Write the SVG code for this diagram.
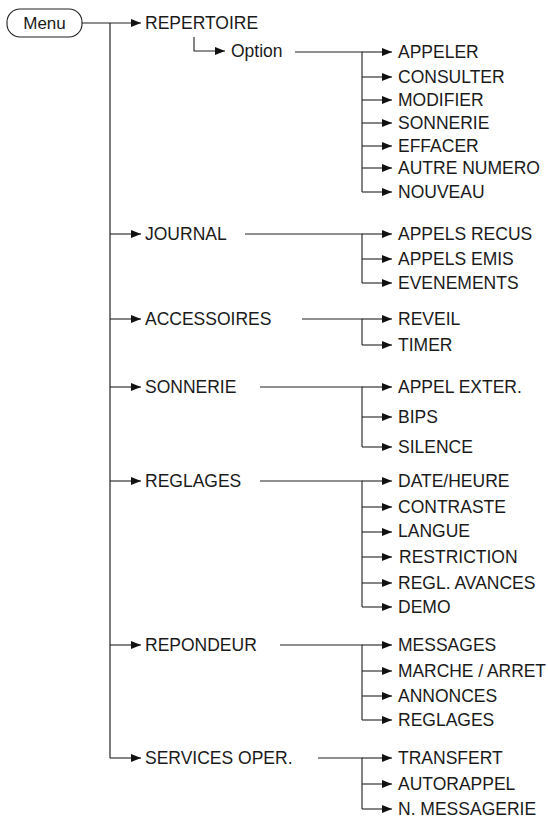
<svg xmlns="http://www.w3.org/2000/svg" width="548" height="823" viewBox="0 0 548 823">
<style>
text{font-family:"Liberation Sans",Arial,sans-serif;font-size:17.5px;fill:#1a1a1a}
.c{fill:none;stroke:#222;stroke-width:1.1}
.t{fill:none;stroke:#444;stroke-width:1.4}
.a{marker-end:url(#ah)}
</style>
<defs>
<marker id="ah" markerUnits="userSpaceOnUse" markerWidth="11" markerHeight="9" refX="10" refY="4" orient="auto">
<path d="M0,0 L10,4 L0,8 z" fill="#111"/>
</marker>
</defs>
<rect width="548" height="823" fill="#fff"/>
<g id="connectors">
<path class="t" d="M110,23 V758"/>
<path class="c a" d="M82,23 H141"/>
<path class="c a" d="M110,234 H141"/>
<path class="c a" d="M110,319 H141"/>
<path class="c a" d="M110,387 H141"/>
<path class="c a" d="M110,481 H141"/>
<path class="c a" d="M110,645 H141"/>
<path class="c a" d="M110,758 H141"/>
<path class="c a" d="M194,37 V51 H225"/>
<path class="c" d="M295,52 H362 V192"/>
<path class="c a" d="M362,52 H392"/>
<path class="c a" d="M362,77 H392"/>
<path class="c a" d="M362,100 H392"/>
<path class="c a" d="M362,123 H392"/>
<path class="c a" d="M362,146 H392"/>
<path class="c a" d="M362,168 H392"/>
<path class="c a" d="M362,192 H392"/>
<path class="c" d="M245,234 H362 V283"/>
<path class="c a" d="M362,234 H392"/>
<path class="c a" d="M362,259 H392"/>
<path class="c a" d="M362,283 H392"/>
<path class="c" d="M302,319 H362 V345"/>
<path class="c a" d="M362,319 H392"/>
<path class="c a" d="M362,345 H392"/>
<path class="c" d="M260,387 H362 V447"/>
<path class="c a" d="M362,387 H392"/>
<path class="c a" d="M362,417 H392"/>
<path class="c a" d="M362,447 H392"/>
<path class="c" d="M260,481 H362 V607"/>
<path class="c a" d="M362,481 H392"/>
<path class="c a" d="M362,507 H392"/>
<path class="c a" d="M362,532 H392"/>
<path class="c a" d="M362,557 H392"/>
<path class="c a" d="M362,583 H392"/>
<path class="c a" d="M362,607 H392"/>
<path class="c" d="M280,645 H362 V720"/>
<path class="c a" d="M362,645 H392"/>
<path class="c a" d="M362,671 H392"/>
<path class="c a" d="M362,696 H392"/>
<path class="c a" d="M362,720 H392"/>
<path class="c" d="M318,758 H362 V809"/>
<path class="c a" d="M362,758 H392"/>
<path class="c a" d="M362,784 H392"/>
<path class="c a" d="M362,809 H392"/>
</g>
<g id="menu">
<rect x="7" y="9" width="75" height="28" rx="13" fill="#fff" stroke="#222" stroke-width="1.1"/>
<text x="44.5" y="29" text-anchor="middle" style="font-size:17px">Menu</text>
</g>
<g id="repertoire"><text x="145" y="29">REPERTOIRE</text></g>
<g id="option"><text x="231" y="57">Option</text></g>
<g id="appeler"><text x="398" y="58">APPELER</text></g>
<g id="consulter"><text x="398" y="83">CONSULTER</text></g>
<g id="modifier"><text x="398" y="106">MODIFIER</text></g>
<g id="sonnerie-rep"><text x="398" y="129">SONNERIE</text></g>
<g id="effacer"><text x="398" y="152">EFFACER</text></g>
<g id="autre-numero"><text x="398" y="174">AUTRE NUMERO</text></g>
<g id="nouveau"><text x="398" y="198">NOUVEAU</text></g>
<g id="journal"><text x="145" y="240">JOURNAL</text></g>
<g id="appels-recus"><text x="398" y="240">APPELS RECUS</text></g>
<g id="appels-emis"><text x="398" y="265">APPELS EMIS</text></g>
<g id="evenements"><text x="398" y="289">EVENEMENTS</text></g>
<g id="accessoires"><text x="145" y="325">ACCESSOIRES</text></g>
<g id="reveil"><text x="398" y="325">REVEIL</text></g>
<g id="timer"><text x="398" y="351">TIMER</text></g>
<g id="sonnerie"><text x="145" y="393">SONNERIE</text></g>
<g id="appel-exter"><text x="398" y="393">APPEL EXTER.</text></g>
<g id="bips"><text x="398" y="423">BIPS</text></g>
<g id="silence"><text x="398" y="453">SILENCE</text></g>
<g id="reglages"><text x="145" y="487">REGLAGES</text></g>
<g id="date-heure"><text x="398" y="487">DATE/HEURE</text></g>
<g id="contraste"><text x="398" y="513">CONTRASTE</text></g>
<g id="langue"><text x="398" y="537">LANGUE</text></g>
<g id="restriction"><text x="399" y="563">RESTRICTION</text></g>
<g id="regl-avances"><text x="398" y="589">REGL. AVANCES</text></g>
<g id="demo"><text x="398" y="613">DEMO</text></g>
<g id="repondeur"><text x="145" y="651">REPONDEUR</text></g>
<g id="messages"><text x="398" y="651">MESSAGES</text></g>
<g id="marche-arret"><text x="398" y="677" textLength="148" lengthAdjust="spacingAndGlyphs">MARCHE / ARRET</text></g>
<g id="annonces"><text x="398" y="702">ANNONCES</text></g>
<g id="reglages-rep"><text x="398" y="726">REGLAGES</text></g>
<g id="services-oper"><text x="145" y="764">SERVICES OPER.</text></g>
<g id="transfert"><text x="398" y="764">TRANSFERT</text></g>
<g id="autorappel"><text x="398" y="790">AUTORAPPEL</text></g>
<g id="n-messagerie"><text x="398" y="815">N. MESSAGERIE</text></g>
</svg>
